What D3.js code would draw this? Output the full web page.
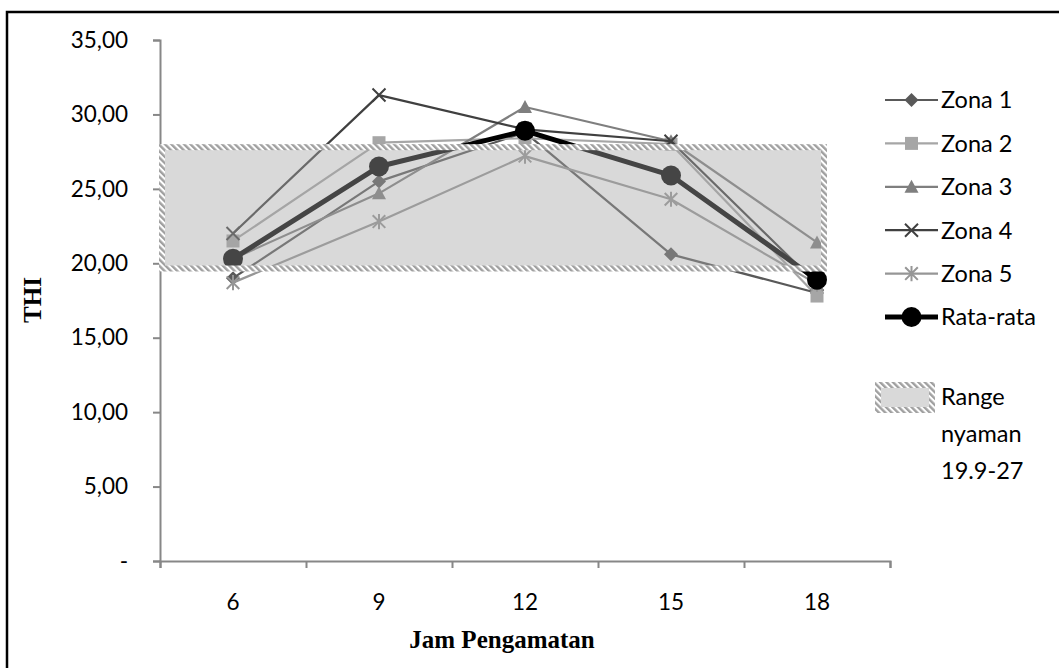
<!DOCTYPE html>
<html>
<head>
<meta charset="utf-8">
<script src="https://cdn.jsdelivr.net/npm/d3@7"></script>
<style>
  body { margin: 0; background: #fff; }
  svg { display: block; }
</style>
</head>
<body>
<script>
// chart values
const hours = [6, 9, 12, 15, 18];
const zona1 = [19.0, 25.5, 28.8, 20.6, 18.0];
const zona2 = [21.5, 28.1, 28.4, 28.0, 17.8];
const zona3 = [20.3, 24.7, 30.5, 28.2, 21.4];
const zona4 = [22.0, 31.3, 29.0, 28.2, 18.6];
const zona5 = [18.7, 22.8, 27.2, 24.3, 18.6];
const rataRata = [20.3, 26.5, 28.9, 25.9, 18.9];
const yTicks = [0, 5, 10, 15, 20, 25, 30, 35];
const rangeBand = [19.65, 27.8]; // drawn extent of the "Range nyaman" box
const rangeLabel = ['Range', 'nyaman', '19.9-27'];

const series = [
  {name: 'Zona 1', values: zona1, color: '#595959', marker: 'diamond', width: 2.2},
  {name: 'Zona 2', values: zona2, color: '#a6a6a6', marker: 'square', width: 2.2},
  {name: 'Zona 3', values: zona3, color: '#7f7f7f', marker: 'triangle', width: 2.2},
  {name: 'Zona 4', values: zona4, color: '#404040', marker: 'x', width: 2.2},
  {name: 'Zona 5', values: zona5, color: '#969696', marker: 'star', width: 2.2},
  {name: 'Rata-rata', values: rataRata, color: '#000000', marker: 'circle', width: 5}
];

const W = 1059, H = 668;
const plot = {left: 160, right: 890, top: 40, bottom: 561};
const font = 'Lato, "Open Sans", sans-serif';
const serif = '"Liberation Serif", "Times New Roman", serif';

const svg = d3.select('body').append('svg')
  .attr('width', W).attr('height', H);

// outer frame
svg.append('rect')
  .attr('x', 7).attr('y', 12)
  .attr('width', W + 20).attr('height', H + 20)
  .attr('fill', '#fff')
  .attr('stroke', '#000').attr('stroke-width', 2.5);

const defs = svg.append('defs');
defs.append('pattern')
  .attr('id', 'hatch')
  .attr('patternUnits', 'userSpaceOnUse')
  .attr('width', 4.5).attr('height', 4.5)
  .attr('patternTransform', 'rotate(-45)')
  .call(p => {
    p.append('rect').attr('width', 4.5).attr('height', 4.5).attr('fill', '#fff');
    p.append('rect').attr('width', 2.4).attr('height', 4.5).attr('fill', '#a0a0a0');
  });

const x = d3.scaleBand().domain(hours).range([plot.left, plot.right]).padding(0);
const xc = d => x(d) + x.bandwidth() / 2;
const y = d3.scaleLinear().domain([0, 35]).range([plot.bottom, plot.top]);

function markerPath(type, s) {
  switch (type) {
    case 'diamond': return `M0,${-s}L${s},0L0,${s}L${-s},0Z`;
    case 'square': return `M${-s},${-s}H${s}V${s}H${-s}Z`;
    case 'triangle': return `M0,${-s}L${s},${s * 0.85}L${-s},${s * 0.85}Z`;
    case 'x': return `M${-s},${-s}L${s},${s}M${-s},${s}L${s},${-s}`;
    case 'star': return `M${-s},${-s}L${s},${s}M${-s},${s}L${s},${-s}M0,${-s * 1.2}V${s * 1.2}`;
  }
}
const markerSize = {diamond: 7, square: 6.5, triangle: 7, x: 6.5, star: 6.3};

function drawMarker(g, s, cx, cy) {
  if (s.marker === 'circle') {
    g.append('circle').attr('cx', cx).attr('cy', cy).attr('r', 10).attr('fill', s.color);
  } else if (s.marker === 'x' || s.marker === 'star') {
    g.append('path').attr('transform', `translate(${cx},${cy})`)
      .attr('d', markerPath(s.marker, markerSize[s.marker]))
      .attr('fill', 'none').attr('stroke', s.color).attr('stroke-width', 2);
  } else {
    g.append('path').attr('transform', `translate(${cx},${cy})`)
      .attr('d', markerPath(s.marker, markerSize[s.marker]))
      .attr('fill', s.color);
  }
}

// axes
const yAxis = d3.axisLeft(y).tickValues(yTicks).tickSize(7).tickPadding(25)
  .tickFormat(d => d === 0 ? '-' : d.toFixed(2).replace('.', ','));
const gy = svg.append('g').attr('transform', `translate(${plot.left},0)`).call(yAxis);

const xEdges = d3.scaleLinear().domain([0, hours.length]).range([plot.left, plot.right]);
const gxTicks = svg.append('g').attr('transform', `translate(0,${plot.bottom})`)
  .call(d3.axisBottom(xEdges).ticks(hours.length).tickSize(7).tickFormat(''));
const gx = svg.append('g').attr('transform', `translate(0,${plot.bottom})`)
  .call(d3.axisBottom(x).tickSize(0).tickPadding(33));
gx.select('.domain').remove();

[gy, gxTicks, gx].forEach(g => {
  g.selectAll('.domain, .tick line').attr('stroke', '#878787').attr('stroke-width', 2);
  g.selectAll('text').attr('font-family', font).attr('font-size', 22.5).attr('fill', '#000');
});

// series
const line = d3.line().x((d, i) => xc(hours[i])).y(d => y(d));
series.forEach(s => {
  const g = svg.append('g');
  g.append('path').datum(s.values).attr('d', line)
    .attr('fill', 'none').attr('stroke', s.color).attr('stroke-width', s.width)
    .attr('stroke-linejoin', 'round');
  s.values.forEach((v, i) => drawMarker(g, s, xc(hours[i]), y(v)));
});

// comfort range box drawn over the lines
const bx0 = plot.left + 2;
const bx1 = xc(hours[hours.length - 1]) + 7;
svg.append('rect')
  .attr('x', bx0).attr('y', y(rangeBand[1]))
  .attr('width', bx1 - bx0).attr('height', y(rangeBand[0]) - y(rangeBand[1]))
  .attr('fill', 'rgb(165,165,165)').attr('fill-opacity', 0.42)
  .attr('stroke', 'url(#hatch)').attr('stroke-width', 6);

// axis titles
svg.append('text')
  .attr('x', 502).attr('y', 648)
  .attr('text-anchor', 'middle')
  .attr('font-family', serif).attr('font-weight', 'bold').attr('font-size', 25)
  .attr('fill', '#000')
  .text('Jam Pengamatan');
svg.append('text')
  .attr('transform', 'translate(41,300) rotate(-90)')
  .attr('text-anchor', 'middle')
  .attr('font-family', serif).attr('font-weight', 'bold').attr('font-size', 25)
  .attr('fill', '#000')
  .text('THI');

// legend
const legend = svg.append('g');
const lx0 = 885, lx1 = 938, ly0 = 100, lstep = 43.4;
series.forEach((s, i) => {
  const ly = ly0 + i * lstep;
  const g = legend.append('g');
  g.append('line').attr('x1', lx0).attr('x2', lx1).attr('y1', ly).attr('y2', ly)
    .attr('stroke', s.color).attr('stroke-width', s.width);
  drawMarker(g, s, (lx0 + lx1) / 2, ly);
  g.append('text').attr('x', lx1 + 3).attr('y', ly).attr('dy', '0.36em')
    .attr('font-family', font).attr('font-size', 23.5).attr('fill', '#000').text(s.name);
});
legend.append('rect')
  .attr('x', 878).attr('y', 385).attr('width', 54).attr('height', 25)
  .attr('fill', 'rgb(165,165,165)').attr('fill-opacity', 0.42)
  .attr('stroke', 'url(#hatch)').attr('stroke-width', 6);
rangeLabel.forEach((t, i) => {
  legend.append('text').attr('x', 941).attr('y', 397 + i * 37).attr('dy', '0.36em')
    .attr('font-family', font).attr('font-size', 23.5).attr('fill', '#000').text(t);
});
</script>
</body>
</html>
